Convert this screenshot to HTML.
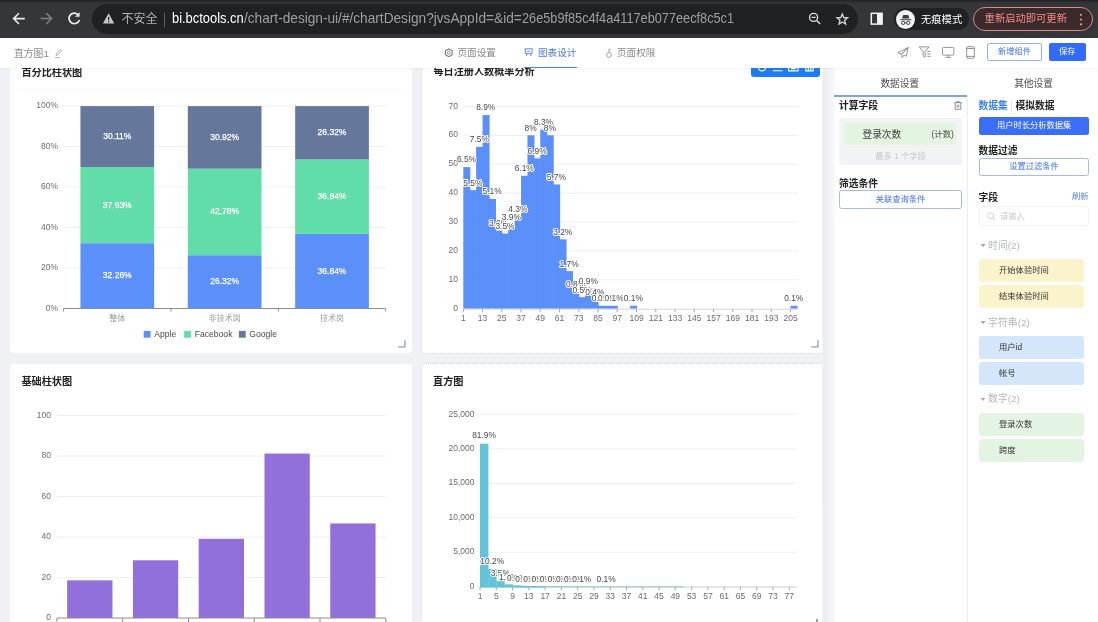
<!DOCTYPE html><html lang="zh-CN"><head><meta charset="utf-8"><title>直方图1</title><style>
*{box-sizing:border-box;margin:0;padding:0}
html,body{width:1098px;height:622px;overflow:hidden;background:#fff}
body{font-family:"Liberation Sans","Noto Sans CJK SC",sans-serif;font-size:10px;color:#333;position:relative}
.abs{position:absolute}
.chrome{position:absolute;left:0;top:0;width:1098px;height:37.6px;background:linear-gradient(#2a2b2e 0,#35363a 2.5px);border-top:1px solid #232427;z-index:6}
.pill{position:absolute;left:92px;top:3.3px;width:766px;height:29.6px;border-radius:15px;background:#202124}
.url{position:absolute;left:0;top:8px;font-size:14.6px;line-height:18px;color:#9aa0a6;white-space:nowrap}
.url b,.url span{position:absolute;top:0;display:block;transform-origin:0 50%}
.url b{font-weight:400;color:#fff}
.unsafe{position:absolute;left:121.6px;top:11px;font-size:12px;line-height:15px;color:#b0b4b9;white-space:nowrap}
.sep{position:absolute;left:164px;top:12px;width:1px;height:14px;background:#5f6368}
.incog{position:absolute;left:894px;top:7.4px;width:75px;height:22px;border-radius:11px;background:#202124}
.incog .c{position:absolute;left:1.5px;top:1.3px;width:19.5px;height:19.5px;border-radius:50%;background:#f1f3f4}
.incog span{position:absolute;left:27px;top:3.5px;font-size:10.3px;line-height:15px;color:#fff;white-space:nowrap}
.upd{position:absolute;left:973.3px;top:5.6px;width:120px;height:24.6px;border-radius:12.5px;border:1px solid #d98a87;background:#3b2a2c}
.upd span{position:absolute;left:10.3px;top:3.5px;font-size:10.3px;line-height:15px;color:#f28b82;white-space:nowrap}
.appbar{position:absolute;left:0;top:37px;width:1098px;height:31px;background:#fff;z-index:5;box-shadow:0 1px 2px rgba(0,0,0,.05)}
.appbar .t{position:absolute;font-size:9.6px;line-height:14px;white-space:nowrap;color:#8a8a8a}
.btn{position:absolute;border-radius:2px;font-size:8.25px;text-align:center;white-space:nowrap}
.main{position:absolute;left:0;top:68px;width:834px;height:554px;background:#eff1f5;overflow:hidden}
.card{position:absolute;background:#fff;border-radius:4px}
.card .ttl{position:absolute;left:11.5px;font-size:10.15px;line-height:14px;font-weight:700;color:#222;white-space:nowrap}
.panel{position:absolute;left:834px;top:68px;width:264px;height:554px;background:linear-gradient(90deg,#f7f8fa,#fff 2.5px)}
svg text{font-family:"Liberation Sans","Noto Sans CJK SC",sans-serif}
.h{font-weight:700;color:#222;font-size:9.75px;line-height:13px;white-space:nowrap;position:absolute}
.item{position:absolute;left:145px;width:104.8px;height:23.3px;border-radius:3px;font-size:8.3px;line-height:23.3px;padding-left:20px;color:#333;white-space:nowrap}
.grp{position:absolute;left:154px;font-size:9.9px;line-height:14px;color:#b4b7bd;white-space:nowrap}
.grp i{position:absolute;left:-7.4px;top:5.4px;width:5px;height:3.3px;background:#a3a6ad;clip-path:polygon(0 0,100% 0,50% 100%)}
</style></head><body>

<div class="chrome">
 <div class="pill"></div>
 <svg class="abs" style="left:0;top:-.8px" width="170" height="37" viewBox="0 0 170 37" fill="none">
  <path d="M24 18.6H14.2M18.4 13.8l-4.8 4.8 4.8 4.8" stroke="#e8eaed" stroke-width="1.6" stroke-linecap="square"/>
  <path d="M41.4 18.6h9.8M46.8 13.8l4.8 4.8-4.8 4.8" stroke="#7d8185" stroke-width="1.5" stroke-linecap="square"/>
  <path d="M78.6 15.2A5.3 5.3 0 1 0 79.4 20" stroke="#e8eaed" stroke-width="1.7"/>
  <path d="M79.6 12.2v4.6H75z" fill="#e8eaed"/>
  <path d="M108.6 13.3l5.7 10.1H102.9z" fill="#c4c7cb"/>
  <path d="M108.6 17v3.3M108.6 21.1v1.2" stroke="#202124" stroke-width="1.2"/>
 </svg>
 <div class="unsafe">不安全</div><div class="sep"></div>
 <div class="url"><b id="u1" style="left:172px;transform:scaleX(0.8838)">bi.bctools.cn</b><span id="u2" style="left:243.7px;transform:scaleX(0.9356)">/chart-design-ui/#/chartDesign?jvsAppId=&amp;id=</span><span id="u3" style="left:521.5px;transform:scaleX(0.8718)">26e5b9f85c4f4a4117eb077eecf8c5c1</span></div>
 <svg class="abs" style="left:800px;top:-.8px" width="100" height="37" viewBox="0 0 100 37" fill="none">
  <circle cx="13.6" cy="17.4" r="4" stroke="#dadce0" stroke-width="1.4"/>
  <path d="M16.6 20.4l3.6 3.6M11.6 17.4h4" stroke="#dadce0" stroke-width="1.4"/>
  <path d="M42.3 13.9L43.74 17.52L47.63 17.77L44.63 20.26L45.59 24.03L42.3 21.95L39.01 24.03L39.97 20.26L36.97 17.77L40.86 17.52z" stroke="#d2d5d9" stroke-width="1.3" stroke-linejoin="miter"/>
  <rect x="71.3" y="13.3" width="10.8" height="10.8" stroke="#f1f3f4" stroke-width="1.5"/>
  <rect x="77" y="13.3" width="5" height="10.8" fill="#f1f3f4"/>
 </svg>
 <div class="incog"><div class="c"></div>
  <svg class="abs" style="left:1.5px;top:1.3px" width="19.5" height="19.5" viewBox="0 0 20 20"><path d="M6.2 8.8l1.2-3.6h5.2l1.2 3.6zM4.2 9.4h11.6v1H4.2z" fill="#3c4043"/><circle cx="7.4" cy="13.2" r="1.7" fill="none" stroke="#3c4043" stroke-width="1"/><circle cx="12.6" cy="13.2" r="1.7" fill="none" stroke="#3c4043" stroke-width="1"/><path d="M9.1 13h1.8" stroke="#3c4043" stroke-width=".9"/></svg>
  <span>无痕模式</span></div>
 <div class="upd"><span>重新启动即可更新</span>
  <svg class="abs" style="left:102.4px;top:3px" width="8" height="18" viewBox="0 0 8 18"><circle cx="4" cy="3.8" r="1.15" fill="#f28b82"/><circle cx="4" cy="8.6" r="1.15" fill="#f28b82"/><circle cx="4" cy="13.4" r="1.15" fill="#f28b82"/></svg>
 </div>
</div>


<div class="appbar">
 <div class="t" style="left:14px;top:9.5px;font-size:9.8px;color:#8c8c8c">直方图1</div>
 <svg class="abs" style="left:54px;top:11px" width="10" height="11" viewBox="0 0 10 11" fill="none" stroke="#9a9a9a" stroke-width=".8"><path d="M2 7.5l.300-1.8L6.3 1.3l1.5 1.4-4.1 4.4zM1.2 9.6h4.5"/></svg>
 <svg class="abs" style="left:444px;top:10.5px" width="9.6" height="9.6" viewBox="0 0 9.6 9.6" fill="none" stroke="#7c7c7c"><circle cx="4.8" cy="4.8" r="1.5" stroke-width=".8"/><path d="M4.8 .9l3.4 1.95v3.9L4.8 8.7 1.4 6.75v-3.9z" stroke-width="1.1" stroke-linejoin="round"/></svg>
 <div class="t" style="left:457.5px;top:9px">页面设置</div>
 <svg class="abs" style="left:524.3px;top:11.2px" width="10" height="9" viewBox="0 0 10 9" fill="none" stroke="#5a86f5" stroke-width=".95"><path d="M.700 .8h8M1.3 .8v4.8h6.8V.8M3 5.6L2.3 8M6.4 5.6L7.1 8M3.2 3.3h3"/></svg>
 <div class="t" style="left:538px;top:9px;color:#4a7bf0">图表设计</div>
 <div class="abs" style="left:524px;top:29.5px;width:52.5px;height:1.5px;background:#4a86e0"></div>
 <svg class="abs" style="left:605px;top:11px" width="8" height="11" viewBox="0 0 8 11" fill="none" stroke="#8c8c8c" stroke-width=".8"><circle cx="4" cy="7" r="2.4"/><path d="M4 4.6V1.2h1.6"/></svg>
 <div class="t" style="left:617px;top:9px">页面权限</div>
 <svg class="abs" style="left:896px;top:9px" width="84" height="14" viewBox="0 0 84 14" fill="none" stroke="#8a8a8a" stroke-width=".9" stroke-linejoin="round">
  <path d="M12 1.6L1.8 6.6l3.8 1.5zM12 1.6L5.6 8.1l.6 3.6 1.7-2.5 2.5 1z"/>
  <path d="M23.2 .9h9.8l-3.9 4.7v5.7l-2-1.4V5.6zM31.2 5.6h3.4M31.2 8h3.4M31.2 10.4h3.4"/>
  <rect x="46.5" y="1.4" width="11.4" height="7.7" rx="1"/><path d="M52.2 9.1v2.2M49.4 11.4h5.7"/>
  <rect x="70.7" y=".7" width="7.6" height="11.6" rx="1.3"/><path d="M70.7 2.5h7.6M70.7 10.4h7.6"/>
 </svg>
 <div class="btn" style="left:987px;top:5.8px;width:54.8px;height:18.6px;line-height:16.8px;border:1px solid #8fb0ff;color:#3b6ff5;background:#fff">新增组件</div>
 <div class="btn" style="left:1048.5px;top:5.8px;width:37.5px;height:18.6px;line-height:18.6px;color:#fff;background:#326bf8">保存</div>
</div>

<div class="main">
<div class="card" style="left:10px;top:-13px;width:402.3px;height:298.2px"><div class="ttl" style="top:10.6px">百分比柱状图</div>
<div class="abs" style="left:8px;top:33.5px;width:386px;height:1px;background:#f9f9f9"></div>
<svg class="abs" style="left:388.4px;top:284.8px" width="8" height="8" viewBox="0 0 8 8"><path d="M6.9 .2v6.7H.2" fill="none" stroke="#9b9cb2" stroke-width="1.3"/></svg>
<svg class="abs" style="left:0;top:0" width="402" height="298" viewBox="0 0 402 298">
<text x="48" y="255.6" font-size="8.5" fill="#6c6c6c" text-anchor="end">0%</text>
<path d="M53.6 213.02H375.7" stroke="#eeeeee" stroke-width="1"/>
<text x="48" y="215.12" font-size="8.5" fill="#6c6c6c" text-anchor="end">20%</text>
<path d="M53.6 172.54H375.7" stroke="#eeeeee" stroke-width="1"/>
<text x="48" y="174.64" font-size="8.5" fill="#6c6c6c" text-anchor="end">40%</text>
<path d="M53.6 132.06H375.7" stroke="#eeeeee" stroke-width="1"/>
<text x="48" y="134.16" font-size="8.5" fill="#6c6c6c" text-anchor="end">60%</text>
<path d="M53.6 91.58H375.7" stroke="#eeeeee" stroke-width="1"/>
<text x="48" y="93.68" font-size="8.5" fill="#6c6c6c" text-anchor="end">80%</text>
<path d="M53.6 51.1H375.7" stroke="#eeeeee" stroke-width="1"/>
<text x="48" y="53.2" font-size="8.5" fill="#6c6c6c" text-anchor="end">100%</text>
<rect x="70.43" y="188.21" width="73.7" height="65.29" fill="#5b8ff9"/>
<text x="107.28" y="223.25" font-size="8.5" fill="#fff" stroke="#fff" stroke-width=".25" text-anchor="middle">32.26%</text>
<rect x="70.43" y="112.04" width="73.7" height="76.16" fill="#61ddaa"/>
<text x="107.28" y="152.52" font-size="8.5" fill="#fff" stroke="#fff" stroke-width=".25" text-anchor="middle">37.63%</text>
<rect x="70.43" y="51.1" width="73.7" height="60.94" fill="#65789b"/>
<text x="107.28" y="83.97" font-size="8.5" fill="#fff" stroke="#fff" stroke-width=".25" text-anchor="middle">30.11%</text>
<text x="107.28" y="266.1" font-size="8" fill="#9c9c9c" text-anchor="middle">整体</text>
<rect x="177.8" y="200.23" width="73.7" height="53.27" fill="#5b8ff9"/>
<text x="214.65" y="229.26" font-size="8.5" fill="#fff" stroke="#fff" stroke-width=".25" text-anchor="middle">26.32%</text>
<rect x="177.8" y="113.68" width="73.7" height="86.55" fill="#61ddaa"/>
<text x="214.65" y="159.36" font-size="8.5" fill="#fff" stroke="#fff" stroke-width=".25" text-anchor="middle">42.76%</text>
<rect x="177.8" y="51.1" width="73.7" height="62.58" fill="#65789b"/>
<text x="214.65" y="84.79" font-size="8.5" fill="#fff" stroke="#fff" stroke-width=".25" text-anchor="middle">30.92%</text>
<text x="214.65" y="266.1" font-size="8" fill="#9c9c9c" text-anchor="middle">非技术岗</text>
<rect x="285.17" y="178.94" width="73.7" height="74.56" fill="#5b8ff9"/>
<text x="322.02" y="218.62" font-size="8.5" fill="#fff" stroke="#fff" stroke-width=".25" text-anchor="middle">36.84%</text>
<rect x="285.17" y="104.37" width="73.7" height="74.56" fill="#61ddaa"/>
<text x="322.02" y="144.05" font-size="8.5" fill="#fff" stroke="#fff" stroke-width=".25" text-anchor="middle">36.84%</text>
<rect x="285.17" y="51.1" width="73.7" height="53.27" fill="#65789b"/>
<text x="322.02" y="80.14" font-size="8.5" fill="#fff" stroke="#fff" stroke-width=".25" text-anchor="middle">26.32%</text>
<text x="322.02" y="266.1" font-size="8" fill="#9c9c9c" text-anchor="middle">技术岗</text>
<path d="M53.6 253.5H375.7" stroke="#8c8c8c" stroke-width="1"/>
<path d="M53.6 253.5v3" stroke="#8c8c8c" stroke-width="1"/>
<path d="M160.97 253.5v3" stroke="#8c8c8c" stroke-width="1"/>
<path d="M268.33 253.5v3" stroke="#8c8c8c" stroke-width="1"/>
<path d="M375.7 253.5v3" stroke="#8c8c8c" stroke-width="1"/>
<rect x="133.7" y="275.9" width="6.8" height="6.8" fill="#5b8ff9"/>
<text x="144.2" y="282.3" font-size="8.6" fill="#4a4a4a">Apple</text>
<rect x="174.1" y="275.9" width="6.8" height="6.8" fill="#61ddaa"/>
<text x="184.7" y="282.3" font-size="8.6" fill="#4a4a4a">Facebook</text>
<rect x="228.9" y="275.9" width="6.8" height="6.8" fill="#65789b"/>
<text x="239.3" y="282.3" font-size="8.6" fill="#4a4a4a">Google</text>
</svg></div>
<div class="card" style="left:422px;top:-13px;width:401px;height:298.7px;border:1px dotted #c4d7f3;border-left-color:#dce7f8;border-right-color:#e4ecf9"><div class="ttl" style="top:9.2px;left:10.4px">每日注册人数概率分析</div>
<div class="abs" style="left:328px;top:0;width:68.8px;height:20.8px;background:#1b7cf3;border-radius:3px"></div>
<svg class="abs" style="left:328px;top:0" width="69" height="21" viewBox="0 0 69 21" fill="none" stroke="#fff" stroke-width="1.15"><circle cx="11" cy="11.1" r="3.8"/><path d="M21.8 14.7h9.8M37.6 7h9.4v7.9h-9.4zM40 12.6h4.8M54.8 8h7.4v6.9h-7.4zM57.3 14.5v-3M59.8 14.5v-3"/></svg>
<svg class="abs" style="left:387.6px;top:283.8px" width="8" height="8" viewBox="0 0 8 8"><path d="M6.9 .2v6.7H.2" fill="none" stroke="#9b9cb2" stroke-width="1.3"/></svg>
<svg class="abs" style="left:0;top:0" width="399" height="296" viewBox="0 0 399 296">
<text x="35" y="254.8" font-size="8.5" fill="#6c6c6c" text-anchor="end">0</text>
<path d="M40.3 223.8H375.3" stroke="#eeeeee" stroke-width="1"/>
<text x="35" y="225.9" font-size="8.5" fill="#6c6c6c" text-anchor="end">10</text>
<path d="M40.3 194.9H375.3" stroke="#eeeeee" stroke-width="1"/>
<text x="35" y="197" font-size="8.5" fill="#6c6c6c" text-anchor="end">20</text>
<path d="M40.3 166H375.3" stroke="#eeeeee" stroke-width="1"/>
<text x="35" y="168.1" font-size="8.5" fill="#6c6c6c" text-anchor="end">30</text>
<path d="M40.3 137.1H375.3" stroke="#eeeeee" stroke-width="1"/>
<text x="35" y="139.2" font-size="8.5" fill="#6c6c6c" text-anchor="end">40</text>
<path d="M40.3 108.2H375.3" stroke="#eeeeee" stroke-width="1"/>
<text x="35" y="110.3" font-size="8.5" fill="#6c6c6c" text-anchor="end">50</text>
<path d="M40.3 79.3H375.3" stroke="#eeeeee" stroke-width="1"/>
<text x="35" y="81.4" font-size="8.5" fill="#6c6c6c" text-anchor="end">60</text>
<path d="M40.3 50.4H375.3" stroke="#eeeeee" stroke-width="1"/>
<text x="35" y="52.5" font-size="8.5" fill="#6c6c6c" text-anchor="end">70</text>
<rect x="40.3" y="111.09" width="7.02" height="141.61" fill="#5b8ff9"/>
<rect x="46.72" y="134.21" width="7.02" height="118.49" fill="#5b8ff9"/>
<rect x="53.13" y="90.86" width="7.02" height="161.84" fill="#5b8ff9"/>
<rect x="59.55" y="59.07" width="7.02" height="193.63" fill="#5b8ff9"/>
<rect x="65.96" y="142.88" width="7.02" height="109.82" fill="#5b8ff9"/>
<rect x="72.38" y="174.67" width="7.02" height="78.03" fill="#5b8ff9"/>
<rect x="78.8" y="177.56" width="7.02" height="75.14" fill="#5b8ff9"/>
<rect x="85.21" y="168.89" width="7.02" height="83.81" fill="#5b8ff9"/>
<rect x="91.63" y="160.22" width="7.02" height="92.48" fill="#5b8ff9"/>
<rect x="98.04" y="119.76" width="7.02" height="132.94" fill="#5b8ff9"/>
<rect x="104.46" y="79.3" width="7.02" height="173.4" fill="#5b8ff9"/>
<rect x="110.88" y="102.42" width="7.02" height="150.28" fill="#5b8ff9"/>
<rect x="117.29" y="73.52" width="7.02" height="179.18" fill="#5b8ff9"/>
<rect x="123.71" y="79.3" width="7.02" height="173.4" fill="#5b8ff9"/>
<rect x="130.12" y="128.43" width="7.02" height="124.27" fill="#5b8ff9"/>
<rect x="136.54" y="183.34" width="7.02" height="69.36" fill="#5b8ff9"/>
<rect x="142.96" y="215.13" width="7.02" height="37.57" fill="#5b8ff9"/>
<rect x="149.37" y="235.36" width="7.02" height="17.34" fill="#5b8ff9"/>
<rect x="155.79" y="241.14" width="7.02" height="11.56" fill="#5b8ff9"/>
<rect x="162.2" y="232.47" width="7.02" height="20.23" fill="#5b8ff9"/>
<rect x="168.62" y="244.03" width="7.02" height="8.67" fill="#5b8ff9"/>
<rect x="175.04" y="249.81" width="7.02" height="2.89" fill="#5b8ff9"/>
<rect x="181.45" y="249.81" width="7.02" height="2.89" fill="#5b8ff9"/>
<rect x="187.87" y="249.81" width="7.02" height="2.89" fill="#5b8ff9"/>
<rect x="207.12" y="249.81" width="7.02" height="2.89" fill="#5b8ff9"/>
<rect x="367.52" y="249.81" width="7.02" height="2.89" fill="#5b8ff9"/>
<path d="M40.3 253.2H375.3" stroke="#d4d4d4" stroke-width="1"/>
<text x="43.51" y="106.49" font-size="8.4" fill="#484848" stroke="#fff" stroke-width="2" stroke-linejoin="round" paint-order="stroke" text-anchor="middle">6.5%</text>
<text x="49.92" y="129.61" font-size="8.4" fill="#484848" stroke="#fff" stroke-width="2" stroke-linejoin="round" paint-order="stroke" text-anchor="middle">5.5%</text>
<text x="56.34" y="86.26" font-size="8.4" fill="#484848" stroke="#fff" stroke-width="2" stroke-linejoin="round" paint-order="stroke" text-anchor="middle">7.5%</text>
<text x="62.76" y="54.47" font-size="8.4" fill="#484848" stroke="#fff" stroke-width="2" stroke-linejoin="round" paint-order="stroke" text-anchor="middle">8.9%</text>
<text x="69.17" y="138.28" font-size="8.4" fill="#484848" stroke="#fff" stroke-width="2" stroke-linejoin="round" paint-order="stroke" text-anchor="middle">5.1%</text>
<text x="75.59" y="170.07" font-size="8.4" fill="#484848" stroke="#fff" stroke-width="2" stroke-linejoin="round" paint-order="stroke" text-anchor="middle">3.6%</text>
<text x="82" y="172.96" font-size="8.4" fill="#484848" stroke="#fff" stroke-width="2" stroke-linejoin="round" paint-order="stroke" text-anchor="middle">3.5%</text>
<text x="88.42" y="164.29" font-size="8.4" fill="#484848" stroke="#fff" stroke-width="2" stroke-linejoin="round" paint-order="stroke" text-anchor="middle">3.9%</text>
<text x="94.84" y="155.62" font-size="8.4" fill="#484848" stroke="#fff" stroke-width="2" stroke-linejoin="round" paint-order="stroke" text-anchor="middle">4.3%</text>
<text x="101.25" y="115.16" font-size="8.4" fill="#484848" stroke="#fff" stroke-width="2" stroke-linejoin="round" paint-order="stroke" text-anchor="middle">6.1%</text>
<text x="107.67" y="74.7" font-size="8.4" fill="#484848" stroke="#fff" stroke-width="2" stroke-linejoin="round" paint-order="stroke" text-anchor="middle">8%</text>
<text x="114.08" y="97.82" font-size="8.4" fill="#484848" stroke="#fff" stroke-width="2" stroke-linejoin="round" paint-order="stroke" text-anchor="middle">6.9%</text>
<text x="120.5" y="68.92" font-size="8.4" fill="#484848" stroke="#fff" stroke-width="2" stroke-linejoin="round" paint-order="stroke" text-anchor="middle">8.3%</text>
<text x="126.92" y="74.7" font-size="8.4" fill="#484848" stroke="#fff" stroke-width="2" stroke-linejoin="round" paint-order="stroke" text-anchor="middle">8%</text>
<text x="133.33" y="123.83" font-size="8.4" fill="#484848" stroke="#fff" stroke-width="2" stroke-linejoin="round" paint-order="stroke" text-anchor="middle">5.7%</text>
<text x="139.75" y="178.74" font-size="8.4" fill="#484848" stroke="#fff" stroke-width="2" stroke-linejoin="round" paint-order="stroke" text-anchor="middle">3.2%</text>
<text x="146.16" y="210.53" font-size="8.4" fill="#484848" stroke="#fff" stroke-width="2" stroke-linejoin="round" paint-order="stroke" text-anchor="middle">1.7%</text>
<text x="152.58" y="230.76" font-size="8.4" fill="#484848" stroke="#fff" stroke-width="2" stroke-linejoin="round" paint-order="stroke" text-anchor="middle">0.8%</text>
<text x="159" y="236.54" font-size="8.4" fill="#484848" stroke="#fff" stroke-width="2" stroke-linejoin="round" paint-order="stroke" text-anchor="middle">0.5%</text>
<text x="165.41" y="227.87" font-size="8.4" fill="#484848" stroke="#fff" stroke-width="2" stroke-linejoin="round" paint-order="stroke" text-anchor="middle">0.9%</text>
<text x="171.83" y="239.43" font-size="8.4" fill="#484848" stroke="#fff" stroke-width="2" stroke-linejoin="round" paint-order="stroke" text-anchor="middle">0.4%</text>
<text x="178.24" y="245.21" font-size="8.4" fill="#484848" stroke="#fff" stroke-width="2" stroke-linejoin="round" paint-order="stroke" text-anchor="middle">0.1%</text>
<text x="184.66" y="245.21" font-size="8.4" fill="#484848" stroke="#fff" stroke-width="2" stroke-linejoin="round" paint-order="stroke" text-anchor="middle">0.1%</text>
<text x="191.08" y="245.21" font-size="8.4" fill="#484848" stroke="#fff" stroke-width="2" stroke-linejoin="round" paint-order="stroke" text-anchor="middle">0.1%</text>
<text x="210.32" y="245.21" font-size="8.4" fill="#484848" stroke="#fff" stroke-width="2" stroke-linejoin="round" paint-order="stroke" text-anchor="middle">0.1%</text>
<text x="370.72" y="245.21" font-size="8.4" fill="#484848" stroke="#fff" stroke-width="2" stroke-linejoin="round" paint-order="stroke" text-anchor="middle">0.1%</text>
<path d="M40.3 253.2v3" stroke="#a6a6a6" stroke-width="1"/>
<text x="40.3" y="265" font-size="8.5" fill="#6c6c6c" text-anchor="middle">1</text>
<path d="M59.55 253.2v3" stroke="#a6a6a6" stroke-width="1"/>
<text x="59.55" y="265" font-size="8.5" fill="#6c6c6c" text-anchor="middle">13</text>
<path d="M78.8 253.2v3" stroke="#a6a6a6" stroke-width="1"/>
<text x="78.8" y="265" font-size="8.5" fill="#6c6c6c" text-anchor="middle">25</text>
<path d="M98.04 253.2v3" stroke="#a6a6a6" stroke-width="1"/>
<text x="98.04" y="265" font-size="8.5" fill="#6c6c6c" text-anchor="middle">37</text>
<path d="M117.29 253.2v3" stroke="#a6a6a6" stroke-width="1"/>
<text x="117.29" y="265" font-size="8.5" fill="#6c6c6c" text-anchor="middle">49</text>
<path d="M136.54 253.2v3" stroke="#a6a6a6" stroke-width="1"/>
<text x="136.54" y="265" font-size="8.5" fill="#6c6c6c" text-anchor="middle">61</text>
<path d="M155.79 253.2v3" stroke="#a6a6a6" stroke-width="1"/>
<text x="155.79" y="265" font-size="8.5" fill="#6c6c6c" text-anchor="middle">73</text>
<path d="M175.04 253.2v3" stroke="#a6a6a6" stroke-width="1"/>
<text x="175.04" y="265" font-size="8.5" fill="#6c6c6c" text-anchor="middle">85</text>
<path d="M194.28 253.2v3" stroke="#a6a6a6" stroke-width="1"/>
<text x="194.28" y="265" font-size="8.5" fill="#6c6c6c" text-anchor="middle">97</text>
<path d="M213.53 253.2v3" stroke="#a6a6a6" stroke-width="1"/>
<text x="213.53" y="265" font-size="8.5" fill="#6c6c6c" text-anchor="middle">109</text>
<path d="M232.78 253.2v3" stroke="#a6a6a6" stroke-width="1"/>
<text x="232.78" y="265" font-size="8.5" fill="#6c6c6c" text-anchor="middle">121</text>
<path d="M252.03 253.2v3" stroke="#a6a6a6" stroke-width="1"/>
<text x="252.03" y="265" font-size="8.5" fill="#6c6c6c" text-anchor="middle">133</text>
<path d="M271.28 253.2v3" stroke="#a6a6a6" stroke-width="1"/>
<text x="271.28" y="265" font-size="8.5" fill="#6c6c6c" text-anchor="middle">145</text>
<path d="M290.52 253.2v3" stroke="#a6a6a6" stroke-width="1"/>
<text x="290.52" y="265" font-size="8.5" fill="#6c6c6c" text-anchor="middle">157</text>
<path d="M309.77 253.2v3" stroke="#a6a6a6" stroke-width="1"/>
<text x="309.77" y="265" font-size="8.5" fill="#6c6c6c" text-anchor="middle">169</text>
<path d="M329.02 253.2v3" stroke="#a6a6a6" stroke-width="1"/>
<text x="329.02" y="265" font-size="8.5" fill="#6c6c6c" text-anchor="middle">181</text>
<path d="M348.27 253.2v3" stroke="#a6a6a6" stroke-width="1"/>
<text x="348.27" y="265" font-size="8.5" fill="#6c6c6c" text-anchor="middle">193</text>
<path d="M367.52 253.2v3" stroke="#a6a6a6" stroke-width="1"/>
<text x="367.52" y="265" font-size="8.5" fill="#6c6c6c" text-anchor="middle">205</text>
</svg></div>
<div class="card" style="left:10px;top:295.7px;width:402.3px;height:298px"><div class="ttl" style="top:11.7px">基础柱状图</div>
<svg class="abs" style="left:0;top:0" width="402" height="298" viewBox="0 0 402 298">
<text x="41" y="256.1" font-size="8.5" fill="#6c6c6c" text-anchor="end">0</text>
<path d="M46.9 213.5H375.8" stroke="#eeeeee" stroke-width="1"/>
<text x="41" y="215.6" font-size="8.5" fill="#6c6c6c" text-anchor="end">20</text>
<path d="M46.9 173H375.8" stroke="#eeeeee" stroke-width="1"/>
<text x="41" y="175.1" font-size="8.5" fill="#6c6c6c" text-anchor="end">40</text>
<path d="M46.9 132.5H375.8" stroke="#eeeeee" stroke-width="1"/>
<text x="41" y="134.6" font-size="8.5" fill="#6c6c6c" text-anchor="end">60</text>
<path d="M46.9 92H375.8" stroke="#eeeeee" stroke-width="1"/>
<text x="41" y="94.1" font-size="8.5" fill="#6c6c6c" text-anchor="end">80</text>
<path d="M46.9 51.5H375.8" stroke="#eeeeee" stroke-width="1"/>
<text x="41" y="53.6" font-size="8.5" fill="#6c6c6c" text-anchor="end">100</text>
<rect x="57.14" y="216.34" width="45.3" height="37.66" fill="#9270dc"/>
<rect x="122.92" y="196.29" width="45.3" height="57.71" fill="#9270dc"/>
<rect x="188.7" y="174.82" width="45.3" height="79.18" fill="#9270dc"/>
<rect x="254.48" y="89.57" width="45.3" height="164.43" fill="#9270dc"/>
<rect x="320.26" y="159.43" width="45.3" height="94.57" fill="#9270dc"/>
<path d="M46.9 254H375.8" stroke="#8c8c8c" stroke-width="1"/>
<path d="M46.9 254v4" stroke="#8c8c8c" stroke-width="1"/>
<path d="M112.68 254v4" stroke="#8c8c8c" stroke-width="1"/>
<path d="M178.46 254v4" stroke="#8c8c8c" stroke-width="1"/>
<path d="M244.24 254v4" stroke="#8c8c8c" stroke-width="1"/>
<path d="M310.02 254v4" stroke="#8c8c8c" stroke-width="1"/>
<path d="M375.8 254v4" stroke="#8c8c8c" stroke-width="1"/>
</svg></div>
<div class="card" style="left:422px;top:295px;width:401px;height:298px;border:1px dotted #c4d7f3;border-left-color:#dce7f8;border-right-color:#e4ecf9"><div class="ttl" style="top:10.8px;left:10.1px">直方图</div>
<svg class="abs" style="left:0;top:0" width="399" height="296" viewBox="0 0 399 296">
<text x="51.5" y="224.8" font-size="8.5" fill="#6c6c6c" text-anchor="end">0</text>
<path d="M57 188.24H373.5" stroke="#eeeeee" stroke-width="1"/>
<text x="51.5" y="190.34" font-size="8.5" fill="#6c6c6c" text-anchor="end">5,000</text>
<path d="M57 153.78H373.5" stroke="#eeeeee" stroke-width="1"/>
<text x="51.5" y="155.88" font-size="8.5" fill="#6c6c6c" text-anchor="end">10,000</text>
<path d="M57 119.32H373.5" stroke="#eeeeee" stroke-width="1"/>
<text x="51.5" y="121.42" font-size="8.5" fill="#6c6c6c" text-anchor="end">15,000</text>
<path d="M57 84.86H373.5" stroke="#eeeeee" stroke-width="1"/>
<text x="51.5" y="86.96" font-size="8.5" fill="#6c6c6c" text-anchor="end">20,000</text>
<path d="M57 50.4H373.5" stroke="#eeeeee" stroke-width="1"/>
<text x="51.5" y="52.5" font-size="8.5" fill="#6c6c6c" text-anchor="end">25,000</text>
<path d="M57 223H373.5" stroke="#c8c8c8" stroke-width="1"/>
<rect x="57" y="79.73" width="8.44" height="143.77" fill="#63c4d9"/>
<rect x="65.14" y="204.89" width="8.44" height="18.61" fill="#63c4d9"/>
<rect x="73.28" y="217.12" width="8.44" height="6.38" fill="#63c4d9"/>
<rect x="81.42" y="220.29" width="8.44" height="3.21" fill="#63c4d9"/>
<rect x="89.56" y="221.39" width="8.44" height="2.11" fill="#63c4d9"/>
<rect x="97.7" y="221.8" width="8.44" height="1.7" fill="#63c4d9"/>
<rect x="105.84" y="222.01" width="8.44" height="1.49" fill="#63c4d9"/>
<rect x="113.98" y="222.15" width="8.44" height="1.35" fill="#63c4d9"/>
<rect x="122.12" y="222.25" width="8.44" height="0.9" fill="#63c4d9"/>
<rect x="130.26" y="222.32" width="8.44" height="0.83" fill="#63c4d9"/>
<rect x="138.4" y="222.39" width="8.44" height="0.76" fill="#63c4d9"/>
<rect x="146.54" y="222.44" width="8.44" height="0.71" fill="#63c4d9"/>
<rect x="154.68" y="222.49" width="8.44" height="0.66" fill="#63c4d9"/>
<rect x="162.82" y="222.55" width="8.44" height="0.6" fill="#63c4d9"/>
<rect x="170.96" y="222.55" width="8.44" height="0.6" fill="#63c4d9"/>
<rect x="179.1" y="222.53" width="8.44" height="0.62" fill="#63c4d9"/>
<rect x="187.24" y="222.55" width="8.44" height="0.6" fill="#63c4d9"/>
<rect x="195.38" y="222.55" width="8.44" height="0.6" fill="#63c4d9"/>
<rect x="203.52" y="222.55" width="8.44" height="0.6" fill="#63c4d9"/>
<rect x="211.66" y="222.55" width="8.44" height="0.6" fill="#63c4d9"/>
<rect x="219.8" y="222.55" width="8.44" height="0.6" fill="#63c4d9"/>
<rect x="227.94" y="222.55" width="8.44" height="0.6" fill="#63c4d9"/>
<rect x="236.08" y="222.55" width="8.44" height="0.6" fill="#63c4d9"/>
<rect x="244.22" y="222.55" width="8.44" height="0.6" fill="#63c4d9"/>
<rect x="252.36" y="222.55" width="8.44" height="0.6" fill="#63c4d9"/>
<text x="61.07" y="74.13" font-size="8.4" fill="#484848" stroke="#fff" stroke-width="2" stroke-linejoin="round" paint-order="stroke" text-anchor="middle">81.9%</text>
<text x="69.21" y="200.09" font-size="8.4" fill="#484848" stroke="#fff" stroke-width="2" stroke-linejoin="round" paint-order="stroke" text-anchor="middle">10.2%</text>
<text x="77.35" y="212.32" font-size="8.4" fill="#484848" stroke="#fff" stroke-width="2" stroke-linejoin="round" paint-order="stroke" text-anchor="middle">3.5%</text>
<text x="85.49" y="215.99" font-size="8.4" fill="#484848" stroke="#fff" stroke-width="2" stroke-linejoin="round" paint-order="stroke" text-anchor="middle">1.4%</text>
<text x="93.63" y="217.09" font-size="8.4" fill="#484848" stroke="#fff" stroke-width="2" stroke-linejoin="round" paint-order="stroke" text-anchor="middle">0.8%</text>
<text x="101.77" y="217.5" font-size="8.4" fill="#484848" stroke="#fff" stroke-width="2" stroke-linejoin="round" paint-order="stroke" text-anchor="middle">0.5%</text>
<text x="109.91" y="217.71" font-size="8.4" fill="#484848" stroke="#fff" stroke-width="2" stroke-linejoin="round" paint-order="stroke" text-anchor="middle">0.4%</text>
<text x="118.05" y="217.85" font-size="8.4" fill="#484848" stroke="#fff" stroke-width="2" stroke-linejoin="round" paint-order="stroke" text-anchor="middle">0.3%</text>
<text x="126.19" y="217.95" font-size="8.4" fill="#484848" stroke="#fff" stroke-width="2" stroke-linejoin="round" paint-order="stroke" text-anchor="middle">0.3%</text>
<text x="134.33" y="218.02" font-size="8.4" fill="#484848" stroke="#fff" stroke-width="2" stroke-linejoin="round" paint-order="stroke" text-anchor="middle">0.2%</text>
<text x="142.47" y="218.09" font-size="8.4" fill="#484848" stroke="#fff" stroke-width="2" stroke-linejoin="round" paint-order="stroke" text-anchor="middle">0.2%</text>
<text x="150.61" y="218.14" font-size="8.4" fill="#484848" stroke="#fff" stroke-width="2" stroke-linejoin="round" paint-order="stroke" text-anchor="middle">0.2%</text>
<text x="158.75" y="218.19" font-size="8.4" fill="#484848" stroke="#fff" stroke-width="2" stroke-linejoin="round" paint-order="stroke" text-anchor="middle">0.1%</text>
<text x="183.17" y="218.23" font-size="8.4" fill="#484848" stroke="#fff" stroke-width="2" stroke-linejoin="round" paint-order="stroke" text-anchor="middle">0.1%</text>
<path d="M57 223.2v3" stroke="#a6a6a6" stroke-width="1"/>
<text x="57" y="234.7" font-size="8.5" fill="#6c6c6c" text-anchor="middle">1</text>
<path d="M73.28 223.2v3" stroke="#a6a6a6" stroke-width="1"/>
<text x="73.28" y="234.7" font-size="8.5" fill="#6c6c6c" text-anchor="middle">5</text>
<path d="M89.56 223.2v3" stroke="#a6a6a6" stroke-width="1"/>
<text x="89.56" y="234.7" font-size="8.5" fill="#6c6c6c" text-anchor="middle">9</text>
<path d="M105.84 223.2v3" stroke="#a6a6a6" stroke-width="1"/>
<text x="105.84" y="234.7" font-size="8.5" fill="#6c6c6c" text-anchor="middle">13</text>
<path d="M122.12 223.2v3" stroke="#a6a6a6" stroke-width="1"/>
<text x="122.12" y="234.7" font-size="8.5" fill="#6c6c6c" text-anchor="middle">17</text>
<path d="M138.4 223.2v3" stroke="#a6a6a6" stroke-width="1"/>
<text x="138.4" y="234.7" font-size="8.5" fill="#6c6c6c" text-anchor="middle">21</text>
<path d="M154.68 223.2v3" stroke="#a6a6a6" stroke-width="1"/>
<text x="154.68" y="234.7" font-size="8.5" fill="#6c6c6c" text-anchor="middle">25</text>
<path d="M170.96 223.2v3" stroke="#a6a6a6" stroke-width="1"/>
<text x="170.96" y="234.7" font-size="8.5" fill="#6c6c6c" text-anchor="middle">29</text>
<path d="M187.24 223.2v3" stroke="#a6a6a6" stroke-width="1"/>
<text x="187.24" y="234.7" font-size="8.5" fill="#6c6c6c" text-anchor="middle">33</text>
<path d="M203.52 223.2v3" stroke="#a6a6a6" stroke-width="1"/>
<text x="203.52" y="234.7" font-size="8.5" fill="#6c6c6c" text-anchor="middle">37</text>
<path d="M219.8 223.2v3" stroke="#a6a6a6" stroke-width="1"/>
<text x="219.8" y="234.7" font-size="8.5" fill="#6c6c6c" text-anchor="middle">41</text>
<path d="M236.08 223.2v3" stroke="#a6a6a6" stroke-width="1"/>
<text x="236.08" y="234.7" font-size="8.5" fill="#6c6c6c" text-anchor="middle">45</text>
<path d="M252.36 223.2v3" stroke="#a6a6a6" stroke-width="1"/>
<text x="252.36" y="234.7" font-size="8.5" fill="#6c6c6c" text-anchor="middle">49</text>
<path d="M268.64 223.2v3" stroke="#a6a6a6" stroke-width="1"/>
<text x="268.64" y="234.7" font-size="8.5" fill="#6c6c6c" text-anchor="middle">53</text>
<path d="M284.92 223.2v3" stroke="#a6a6a6" stroke-width="1"/>
<text x="284.92" y="234.7" font-size="8.5" fill="#6c6c6c" text-anchor="middle">57</text>
<path d="M301.2 223.2v3" stroke="#a6a6a6" stroke-width="1"/>
<text x="301.2" y="234.7" font-size="8.5" fill="#6c6c6c" text-anchor="middle">61</text>
<path d="M317.48 223.2v3" stroke="#a6a6a6" stroke-width="1"/>
<text x="317.48" y="234.7" font-size="8.5" fill="#6c6c6c" text-anchor="middle">65</text>
<path d="M333.76 223.2v3" stroke="#a6a6a6" stroke-width="1"/>
<text x="333.76" y="234.7" font-size="8.5" fill="#6c6c6c" text-anchor="middle">69</text>
<path d="M350.04 223.2v3" stroke="#a6a6a6" stroke-width="1"/>
<text x="350.04" y="234.7" font-size="8.5" fill="#6c6c6c" text-anchor="middle">73</text>
<path d="M366.32 223.2v3" stroke="#a6a6a6" stroke-width="1"/>
<text x="366.32" y="234.7" font-size="8.5" fill="#6c6c6c" text-anchor="middle">77</text>
</svg>
<div class="abs" style="left:393.3px;top:254.5px;width:1.8px;height:8px;background:#9b9cb2"></div>
</div>
<div class="abs" style="left:823px;top:0;width:11px;height:554px;background:linear-gradient(90deg,#e9ebef,#f7f8fa)"></div>
</div>

<div class="panel">
 <div class="abs" style="left:0;top:27.1px;width:133px;height:1.8px;background:#7ea6dc"></div>
 <div class="abs" style="left:133px;top:28px;width:1px;height:526px;background:#ededed"></div>
 <div class="abs" style="left:0;top:8.5px;width:131.5px;text-align:center;font-size:9.7px;line-height:14px;color:#4d4d4d">数据设置</div>
 <div class="abs" style="left:133px;top:8.5px;width:133px;text-align:center;font-size:9.7px;line-height:14px;color:#4d4d4d">其他设置</div>

 <div class="h" style="left:5px;top:31.1px">计算字段</div>
 <svg class="abs" style="left:119.6px;top:32.9px" width="8" height="9.14" viewBox="0 0 7 8" fill="none" stroke="#7d7d7d" stroke-width=".75"><path d="M.3 1.5h6.4M2.4 1.5V.5h2.2v1M1 1.5v5.8h5V1.5M2.8 3.2v2.6M4.2 3.2v2.6"/></svg>
 <div class="abs" style="left:5.3px;top:50.3px;width:122.3px;height:46.4px;border-radius:3px;background:#f2f3f5"></div>
 <div class="abs" style="left:9.8px;top:54.5px;width:112.2px;height:22.7px;border-radius:3px;background:#e3f4e1"></div>
 <div class="abs" style="left:28.5px;top:59.8px;font-size:9.7px;line-height:14px;color:#3a3a3a;white-space:nowrap">登录次数</div>
 <div class="abs" style="left:97.5px;top:59.5px;font-size:8.4px;line-height:13px;color:#4a4a4a;white-space:nowrap">(计数)</div>
 <div class="abs" style="left:5px;top:82px;width:123px;text-align:center;font-size:8.3px;line-height:13px;color:#c3c6cc;white-space:nowrap">最多 1 个字段</div>
 <div class="h" style="left:5px;top:109.1px">筛选条件</div>
 <div class="btn" style="left:5px;top:122px;width:123px;height:19px;line-height:17px;border:1px solid #9dbcf8;color:#3b6ff5;border-radius:2.5px;background:#fff">关联查询条件</div>

 <div class="h" style="left:144.5px;top:31.1px;color:#3a84e8">数据集</div>
 <div class="abs" style="left:177px;top:32px;width:1px;height:11px;background:#e4e4e4"></div>
 <div class="h" style="left:181.5px;top:31.1px">模拟数据</div>
 <div class="btn" style="left:145px;top:49px;width:110px;height:17.8px;line-height:17.8px;color:#fff;background:#3a6ef6;border-radius:2.5px">用户时长分析数据集</div>
 <div class="h" style="left:144.5px;top:76.1px">数据过滤</div>
 <div class="btn" style="left:145px;top:89.7px;width:110px;height:18.8px;line-height:16.8px;border:1px solid #9dbcf8;color:#3b6ff5;border-radius:2.5px;background:#fff">设置过滤条件</div>
 <div class="h" style="left:144.5px;top:122.8px">字段</div>
 <div class="abs" style="left:238px;top:122px;font-size:8.4px;line-height:13px;color:#5283f2;white-space:nowrap">刷新</div>
 <div class="abs" style="left:145px;top:137.5px;width:110px;height:20.5px;border:1px solid #f1f1f1;border-radius:3px"></div>
 <svg class="abs" style="left:153px;top:144px" width="9" height="9" viewBox="0 0 9 9" fill="none" stroke="#c4c7cc" stroke-width=".8"><circle cx="3.8" cy="3.8" r="3"/><path d="M6 6l2 2"/></svg>
 <div class="abs" style="left:166px;top:142px;font-size:8.2px;line-height:13px;color:#c6c9cf;white-space:nowrap">请输入</div>

 <div class="grp" style="top:170.5px"><i></i>时间(2)</div>
 <div class="item" style="top:191px;background:#fbf3cc">开始体验时间</div>
 <div class="item" style="top:217px;background:#fbf3cc">结束体验时间</div>
 <div class="grp" style="top:247.5px"><i></i>字符串(2)</div>
 <div class="item" style="top:267.7px;background:#d4e7fa">用户id</div>
 <div class="item" style="top:293.8px;background:#d4e7fa">帐号</div>
 <div class="grp" style="top:324.2px"><i></i>数字(2)</div>
 <div class="item" style="top:344.8px;background:#e4f4e2">登录次数</div>
 <div class="item" style="top:371px;background:#e4f4e2">跨度</div>
</div>

</body></html>
